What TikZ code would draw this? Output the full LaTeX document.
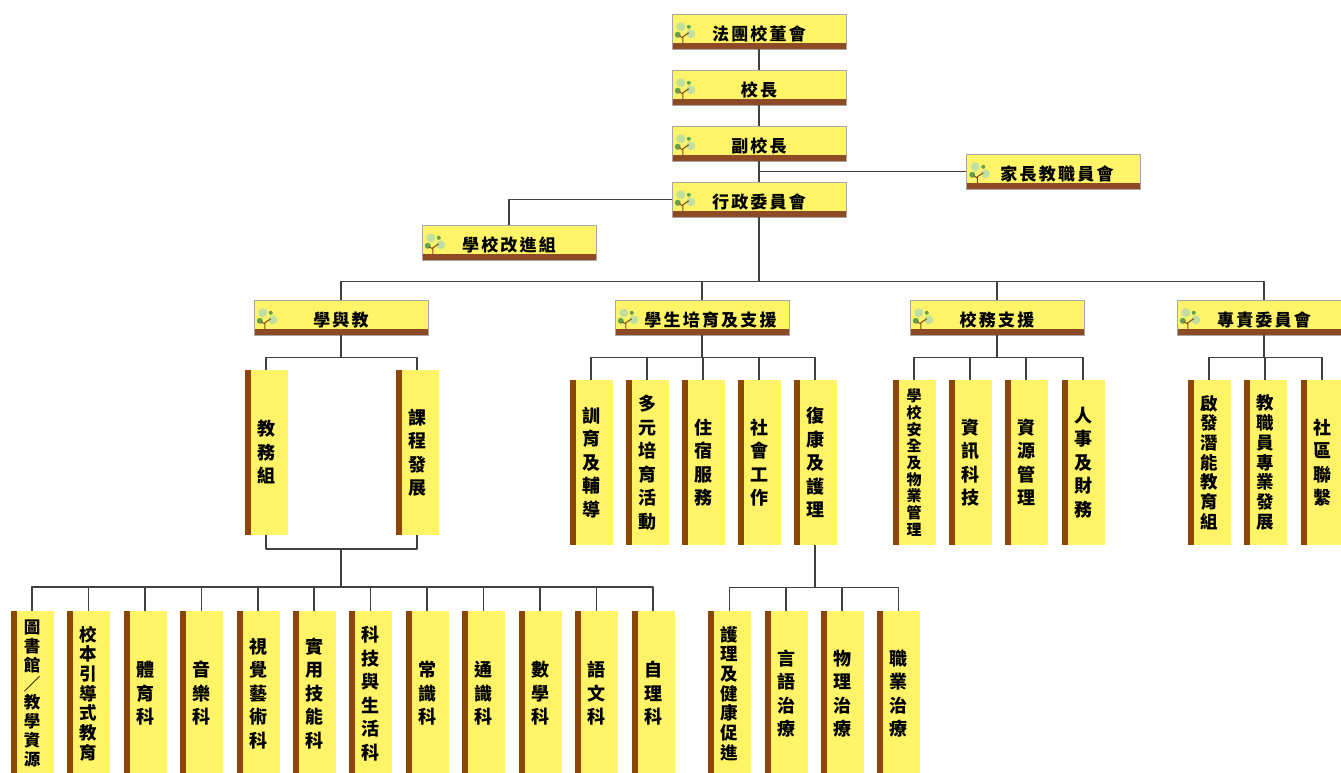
\documentclass[tikz,border=0pt]{standalone}
\usepackage{fontspec}
\newfontfamily\cjk{Noto Sans CJK TC}
\newfontfamily\cjkh{Noto Sans CJK TC}[LetterSpace=13]
\definecolor{boxyel}{RGB}{255,244,104}
\definecolor{bandbr}{RGB}{142,74,36}
\definecolor{stripbr}{RGB}{140,70,5}
\definecolor{leafl}{RGB}{192,224,162}
\definecolor{leafd}{RGB}{96,162,84}
\definecolor{linegr}{RGB}{64,64,64}
% little tree in the corner of a header box
\newcommand\sprout[1]{\begin{scope}[shift={(#1.north west)}]
    \fill[leafl] (9,13) circle (4.5) (19,20) circle (4.5);
    \fill[leafd] (17,13) circle (2) (6,21) circle (3);
    \draw[bandbr,line width=1pt] (11,29)--(11,23)--(17,19) (11,24)--(7,22);
\end{scope}}
\begin{document}
\begin{tikzpicture}[x=1pt,y=-1pt,line join=round,
    link/.style={draw=linegr,line width=1.3pt},
    hdr/.style={draw=gray!70,fill=boxyel,minimum width=174,minimum height=35,inner sep=0pt,
        text height=18pt,text depth=0pt,font=\cjkh\bfseries\fontsize{17}{17}\selectfont,
        path picture={\fill[bandbr] (path picture bounding box.south west) rectangle ([yshift=6pt]path picture bounding box.south east);}},
    vbox/.style={fill=boxyel,minimum width=43,minimum height=165,inner sep=0pt,align=center,
        font=\cjk\bfseries\fontsize{18}{23.5}\selectfont,
        path picture={\fill[stripbr] (path picture bounding box.south west) rectangle ([xshift=6pt]path picture bounding box.north west);}},
    vseven/.style={font=\cjk\bfseries\fontsize{17.5}{19.7}\selectfont},
    veight/.style={font=\cjk\bfseries\fontsize{16.5}{18.9}\selectfont},
    vnine/.style={font=\cjk\bfseries\fontsize{15}{16.7}\selectfont}]
    \useasboundingbox (0,0) rectangle (1341,773);
    \clip (0,0) rectangle (1341,773);
    % top of the tree
    \node[hdr] (board) at (759,31.5) {法團校董會};
    \node[hdr] (principal) at (759,87.5) {校長};
    \node[hdr] (vp) at (759,143.5) {副校長};
    \node[hdr] (admin) at (759,199.5) {行政委員會};
    \node[hdr] (pta) at (1053.5,171.5) {\hspace*{7pt}家長教職員會};
    \node[hdr] (improve) at (509,242.5) {學校改進組};
    \node[hdr] (learn) at (341,317.5) {學與教};
    \node[hdr] (stud) at (702,317.5) {\hspace*{17pt}學生培育及支援};
    \node[hdr] (ops) at (997,317.5) {校務支援};
    \node[hdr] (comm) at (1264,317.5) {專責委員會};
    \sprout{board} \sprout{principal} \sprout{vp} \sprout{admin} \sprout{pta}
    \sprout{improve} \sprout{learn} \sprout{stud} \sprout{ops} \sprout{comm}
    % third level
    \node[vbox] (l1) at (266,452.5) {教\\務\\組};
    \node[vbox] (l2) at (417,452.5) {課\\程\\發\\展};
    \node[vbox] (s1) at (591,462.5) {訓\\育\\及\\輔\\導};
    \node[vbox] (s2) at (647,462.5) {多\\元\\培\\育\\活\\動};
    \node[vbox] (s3) at (703,462.5) {住\\宿\\服\\務};
    \node[vbox] (s4) at (759,462.5) {社\\會\\工\\作};
    \node[vbox] (s5) at (815,462.5) {復\\康\\及\\護\\理};
    \node[vbox,vnine] (o1) at (914,462.5) {學\\校\\安\\全\\及\\物\\業\\管\\理};
    \node[vbox] (o2) at (970,462.5) {資\\訊\\科\\技};
    \node[vbox] (o3) at (1026,462.5) {資\\源\\管\\理};
    \node[vbox] (o4) at (1083,462.5) {人\\事\\及\\財\\務};
    \node[vbox,vseven] (c1) at (1209,462.5) {啟\\發\\潛\\能\\教\\育\\組};
    \node[vbox,vseven] (c2) at (1265,462.5) {教\\職\\員\\專\\業\\發\\展};
    \node[vbox] (c3) at (1322,462.5) {社\\區\\聯\\繫};
    % bottom level
    \coordinate (jn) at (341,549);
    \node[vbox,veight] (b1) at (32,693.5) {圖\\書\\館\\／\\教\\學\\資\\源};
    \node[vbox,vseven] (b2) at (88.5,693.5) {校\\本\\引\\導\\式\\教\\育};
    \node[vbox] (b3) at (145,693.5) {體\\育\\科};
    \node[vbox] (b4) at (201.5,693.5) {音\\樂\\科};
    \node[vbox] (b5) at (258,693.5) {視\\覺\\藝\\術\\科};
    \node[vbox] (b6) at (314,693.5) {實\\用\\技\\能\\科};
    \node[vbox] (b7) at (370.5,693.5) {科\\技\\與\\生\\活\\科};
    \node[vbox] (b8) at (427,693.5) {常\\識\\科};
    \node[vbox] (b9) at (483.5,693.5) {通\\識\\科};
    \node[vbox] (b10) at (540,693.5) {數\\學\\科};
    \node[vbox] (b11) at (596.5,693.5) {語\\文\\科};
    \node[vbox] (b12) at (653,693.5) {自\\理\\科};
    \node[vbox,vseven] (r1) at (729.5,693.5) {護\\理\\及\\健\\康\\促\\進};
    \node[vbox] (r2) at (786,693.5) {言\\語\\治\\療};
    \node[vbox] (r3) at (842,693.5) {物\\理\\治\\療};
    \node[vbox] (r4) at (898.5,693.5) {職\\業\\治\\療};
    % connectors
    \draw[link] (board) -- (principal) -- (vp) -- (admin);
    \draw[link] (vp.south |- pta.west) -- (pta.west);
    \draw[link] (admin.west) -| (improve.north);
    \draw[link] (admin.south) -- ++(0,64) -| (learn.north) (admin.south) -- ++(0,64) -| (stud.north)
        (admin.south) -- ++(0,64) -| (ops.north) (admin.south) -- ++(0,64) -| (comm.north);
    \draw[link] (learn.south) -- ++(0,22) -| (l1.north) (learn.south) -- ++(0,22) -| (l2.north);
    \draw[link] (stud.south) -- ++(0,22) -| (s1.north) (stud.south) -- ++(0,22) -| (s2.north)
        (stud.south) -- ++(0,22) -| (s3.north) (stud.south) -- ++(0,22) -| (s4.north)
        (stud.south) -- ++(0,22) -| (s5.north);
    \draw[link] (ops.south) -- ++(0,22) -| (o1.north) (ops.south) -- ++(0,22) -| (o2.north)
        (ops.south) -- ++(0,22) -| (o3.north) (ops.south) -- ++(0,22) -| (o4.north);
    \draw[link] (comm.south) -- ++(0,22) -| (c1.north) (comm.south) -- ++(0,22) -| (c2.north)
        (comm.south) -- ++(0,22) -| (c3.north);
    \draw[link] (l1.south) |- (jn) -| (l2.south);
    \draw[link] (jn) -- ++(0,38) -| (b1.north) (jn) -- ++(0,38) -| (b2.north) (jn) -- ++(0,38) -| (b3.north)
        (jn) -- ++(0,38) -| (b4.north) (jn) -- ++(0,38) -| (b5.north) (jn) -- ++(0,38) -| (b6.north)
        (jn) -- ++(0,38) -| (b7.north) (jn) -- ++(0,38) -| (b8.north) (jn) -- ++(0,38) -| (b9.north)
        (jn) -- ++(0,38) -| (b10.north) (jn) -- ++(0,38) -| (b11.north) (jn) -- ++(0,38) -| (b12.north);
    \draw[link] (s5.south) -- ++(0,42) -| (r1.north) (s5.south) -- ++(0,42) -| (r2.north)
        (s5.south) -- ++(0,42) -| (r3.north) (s5.south) -- ++(0,42) -| (r4.north);
\end{tikzpicture}
\end{document}
